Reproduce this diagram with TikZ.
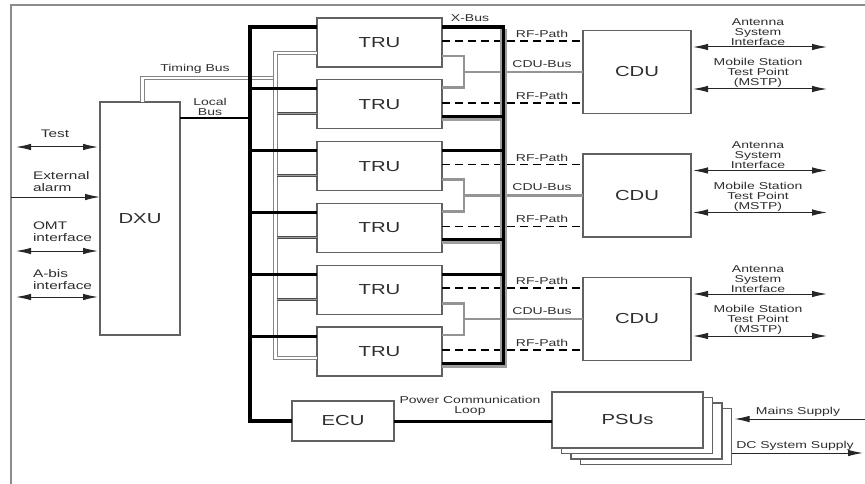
\documentclass[tikz,border=0pt]{standalone}
\usepackage{fontspec}
\setmainfont{Liberation Sans}[FakeStretch=1.4]
\usetikzlibrary{calc,arrows.meta}
\begin{document}
\begin{tikzpicture}[x=1pt,y=-1pt,
  >={Latex[length=15pt,width=6.5pt]},
  box/.style={draw=black!62,line width=1.2pt,fill=white,inner sep=0pt,outer sep=0pt,text=black!82,font=\fontsize{14.5}{16}\selectfont},
  lbl/.style={inner sep=0pt,outer sep=0pt,text=black!82,font=\fontsize{10}{10}\selectfont,align=center},
  llbl/.style={inner sep=0pt,outer sep=0pt,text=black!82,font=\fontsize{11}{12}\selectfont,align=left,anchor=west},
  frame/.style={draw=black!45,line width=1.4pt},
  bbus/.style={draw=black,line width=4pt},
  bblk/.style={draw=black,line width=3pt},
  xblk/.style={draw=black,line width=3.4pt},
  tbus/.style={draw=black!48,line width=1.2pt,double=white,double distance=2.2pt},
  gbr/.style={draw=black!70,line width=1.1pt,double=black!38,double distance=1pt},
  xgray/.style={draw=black!38,line width=7pt},
  xgray2/.style={draw=black!38,line width=5pt},
  rf/.style={draw=black,line width=1.6pt,dash pattern=on 8pt off 5pt},
  cbus/.style={draw=black!42,line width=2.8pt},
  arr/.style={draw=black!85,line width=1pt}
]
\useasboundingbox (0,0) rectangle (865,484);
\draw[frame] (11,484) -- (11,5) -- (865,5);

% boxes
\node[box,minimum width=80pt,minimum height=233pt] (dxu) at (140,218.5) {DXU};
\foreach \i/\t in {1/18,2/79.8,3/141.6,4/203.4,5/265.2,6/327}
  \node[box,minimum width=125pt,minimum height=49pt] (tru\i) at (379.5,\t+24.5) {TRU};
\foreach \p/\c in {1/72,2/195.5,3/319}
  \node[box,minimum width=108pt,minimum height=83pt] (cdu\p) at (637,\c) {CDU};
\node[box,minimum width=102pt,minimum height=40pt] (ecu) at (343,421) {ECU};
\foreach \k in {3,2,1}
  \node[box,minimum width=151pt,minimum height=56pt] (psub\k) at (627.5+9.5*\k,420+5.5*\k) {};
\node[box,minimum width=151pt,minimum height=56pt] (psu) at (627.5,420) {PSUs};

% helper coordinates
\foreach \i in {1,...,6}{
  \path ($(tru\i.north west)+(0,9)$) coordinate (lt\i)
        ($(tru\i.north west)+(0,34)$) coordinate (gl\i)
        ($(tru\i.north east)+(0,9)$) coordinate (rt\i)
        ($(tru\i.south east)+(0,-12.5)$) coordinate (re\i)
        ($(tru\i.south east)+(0,-10.5)$) coordinate (rg\i)
        ($(tru\i.north east)+(0,23)$) coordinate (rf\i);
}
\coordinate (bl) at (250,27);
\coordinate (tj) at (275.5,78);
\coordinate (br) at (503.5,27);
\coordinate (fx) at (464,0);

% left side interface arrows
\coordinate (testL) at (16,147);
\coordinate (extL) at (11,197);
\coordinate (omtL) at (16,251);
\coordinate (abisL) at (16,297);
\draw[arr,<->,shorten >=2pt] (testL) -- (testL -| dxu.west);
\draw[arr,->] (extL) -- (extL -| dxu.west);
\draw[arr,<->,shorten >=2pt] (omtL) -- (omtL -| dxu.west);
\draw[arr,<->,shorten >=2pt] (abisL) -- (abisL -| dxu.west);
\node[inner sep=0pt,text=black!82,font=\fontsize{11}{12}\selectfont] (ltest) at (55,134) {Test};
\node[llbl] (lext) at (33,181.5) {External\\alarm};
\node[llbl] (lomt) at (33,231.5) {OMT\\interface};
\node[llbl] (labis) at (33,280) {A-bis\\interface};

% timing bus (gray double)
\path ($(tru1.north west)+(0,35)$) coordinate (g1)
      ($(tru6.north west)+(0,31)$) coordinate (g6);
\draw[tbus] (dxu.north -| 142.5,0) |- (tj);
\draw[tbus] (g1) -- (g1 -| tj) -- (g6 -| tj) -- (g6);
\foreach \i in {2,3,4,5}
  \draw[gbr] (gl\i) -- ($(gl\i -| tj)+(1.8,0)$);

% local bus (black)
\draw[bbus] (lt1) -- (bl) |- (ecu.west);
\foreach \i in {2,...,6}
  \draw[bblk] (lt\i) -- (lt\i -| bl);
\draw[bblk,line width=2.6pt] (dxu.east |- 0,118) -- (bl |- 0,118);
\draw[bblk] (ecu.east) -- (ecu.east -| psu.west);

% RF paths and CDU buses
\foreach \i/\p in {1/1,2/1,3/2,4/2,5/3,6/3}{
  \draw[rf] (rf\i) -- (rf\i -| cdu\p.west);
  \node[lbl] (rfl\i) at ($(rf\i -| fx)+(78,-7)$) {RF-Path};
}
\foreach \p/\a/\b in {1/1/2,2/3/4,3/5/6}{
  \draw[cbus] ($(tru\a.north east)+(0,38)$) -| ($(tru\b.north east)+(22,8)$) -- ($(tru\b.north east)+(0,8)$);
  \draw[cbus] (cdu\p.west) -- (cdu\p.west -| fx);
  \node[lbl] (cbl\p) at ($(cdu\p.west -| fx)+(78,-8)$) {CDU-Bus};
}

% X-bus
\draw[xgray] (br |- 0,29) -- ($(br |- rg6)+(0,2.5)$);
\foreach \i in {2,4,6}
  \draw[xgray2] (rg\i) -- ($(rg\i -| br)+(3.5,0)$);
\draw[xblk] (rt1) -- (br) |- (re6);
\foreach \i in {3,5}
  \draw[bblk] (rt\i) -- (rt\i -| br);
\foreach \i in {2,4}
  \draw[bblk] (re\i) -- (re\i -| br);

% antenna / MSTP
\foreach \p in {1,2,3}{
  \coordinate (aR\p) at ($(cdu\p.center)+(190,-25)$);
  \coordinate (mR\p) at ($(cdu\p.center)+(190,17)$);
  \draw[arr,<->,shorten <=2pt] (aR\p -| cdu\p.east) -- (aR\p);
  \draw[arr,<->,shorten <=2pt] (mR\p -| cdu\p.east) -- (mR\p);
  \node[lbl] (ant\p) at ($(cdu\p.center)+(121,-40)$) {Antenna\\System\\Interface};
  \node[lbl] (mstp\p) at ($(cdu\p.center)+(121,1)$) {Mobile Station\\Test Point\\(MSTP)};
}

% power supplies
\coordinate (mainsR) at (865,419);
\coordinate (dcR) at (863,453);
\draw[arr,->,shorten >=3pt] (mainsR) -- (mainsR -| psub3.east);
\draw[arr,->] (dcR -| psub3.east) -- (dcR);

% bus labels
\node[lbl] (ltb) at (195,69) {Timing Bus};
\node[lbl] (llb) at (210,107) {Local\\Bus};
\node[lbl] (lxb) at (470,18) {X-Bus};
\node[lbl] (lpcl) at (470,406) {Power Communication\\Loop};
\node[lbl] (lmains) at (798,412) {Mains Supply};
\node[lbl] (ldc) at (795,446) {DC System Supply};
\end{tikzpicture}
\end{document}
